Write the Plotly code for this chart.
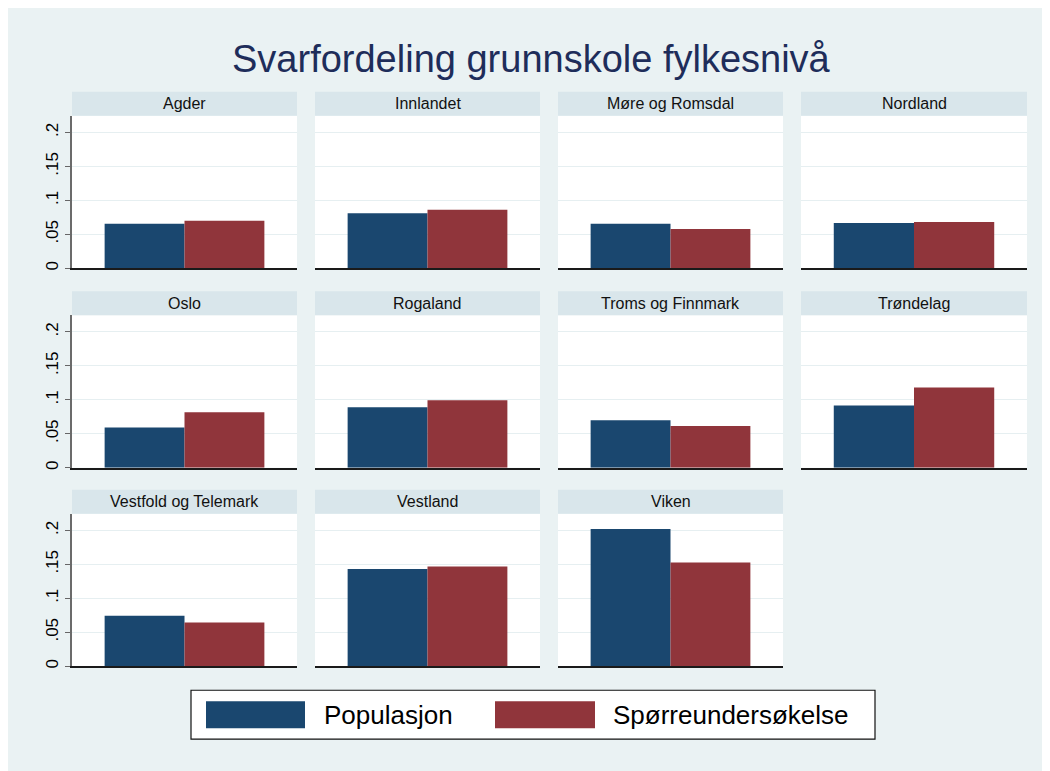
import plotly.graph_objects as go

# ---------------- data ----------------
regions = ["Agder", "Innlandet", "Møre og Romsdal", "Nordland",
           "Oslo", "Rogaland", "Troms og Finnmark", "Trøndelag",
           "Vestfold og Telemark", "Vestland", "Viken"]
populasjon = [0.0656, 0.0811, 0.0656, 0.0665,
              0.0592, 0.0890, 0.0700, 0.0918,
              0.0742, 0.1433, 0.2018]
sporreundersokelse = [0.0700, 0.0861, 0.0577, 0.0680,
                      0.0816, 0.0993, 0.0616, 0.1183,
                      0.0645, 0.1467, 0.1526]
series_names = ["Populasjon", "Spørreundersøkelse"]
y_tick_vals = [0, 0.05, 0.1, 0.15, 0.2]
y_tick_labels = ["0", ".05", ".1", ".15", ".2"]
title_text = "Svarfordeling grunnskole fylkesnivå"

# ---------------- style ----------------
W, H = 1050, 771
OFF = 8  # page body margin offset of the rendered figure
BG = "#EAF2F3"
STRIP = "#D9E6EB"
NAVY = "#1A476F"
MAROON = "#90353B"
FONT = "Liberation Sans, Arial, sans-serif"
colors = [NAVY, MAROON]

col_x = [(72, 297), (315, 540), (558, 783), (801, 1027)]
row_y = [(116, 269), (316, 469), (515, 668)]
STRIP_H = 24


def px(x):
    return (x - OFF) / W


def py(y):
    return 1 - (y - OFF) / H


fig = go.Figure()
layout = dict(
    width=W, height=H,
    margin=dict(l=0, r=0, t=0, b=0),
    paper_bgcolor=BG, plot_bgcolor="white",
    barmode="group", bargap=0.29, bargroupgap=0,
    showlegend=False,
    font=dict(family=FONT, color="black"),
)
shapes = []
annotations = []

for i, reg in enumerate(regions):
    r, c = divmod(i, 4)
    k = i + 1
    xs = "" if k == 1 else str(k)
    x0, x1 = col_x[c]
    y0, y1 = row_y[r]
    for s, vals in enumerate([populasjon, sporreundersokelse]):
        fig.add_trace(go.Bar(
            x=[reg], y=[vals[i]], name=series_names[s],
            marker=dict(color=colors[s], line=dict(width=0)),
            xaxis="x" + xs, yaxis="y" + xs,
            hovertemplate=series_names[s] + ": %{y:.3f}<extra>" + reg + "</extra>",
        ))
    layout["xaxis" + xs] = dict(
        domain=[px(x0), px(x1)], anchor="y" + xs,
        range=[-0.5, 0.5], showticklabels=False, ticks="",
        showgrid=False, zeroline=False,
        showline=True, linecolor="#1a1a1a", linewidth=1.5,
        fixedrange=True,
    )
    first_col = (c == 0)
    layout["yaxis" + xs] = dict(
        domain=[py(y1), py(y0)], anchor="x" + xs,
        range=[0, 0.2245],
        tickvals=y_tick_vals, ticktext=y_tick_labels,
        showticklabels=first_col,
        ticks="outside" if first_col else "",
        ticklen=5, tickcolor="#666666", tickwidth=1.2,
        tickangle=-90,
        tickfont=dict(size=17, color="black", family=FONT),
        showgrid=True, gridcolor="#E6EFF1", gridwidth=1.2,
        zeroline=False,
        showline=first_col, linecolor="#6b6b6b", linewidth=1.5,
        fixedrange=True,
    )
    # facet header strip
    shapes.append(dict(type="rect", xref="paper", yref="paper",
                       x0=px(x0), x1=px(x1), y0=py(y0), y1=py(y0 - STRIP_H),
                       fillcolor=STRIP, line=dict(width=0), layer="above"))
    annotations.append(dict(xref="paper", yref="paper",
                            x=px((x0 + x1) / 2), y=py(y0 - STRIP_H / 2),
                            text=reg, showarrow=False,
                            xanchor="center", yanchor="middle",
                            font=dict(size=16, color="#111111", family=FONT)))

# title
annotations.append(dict(xref="paper", yref="paper", x=px(531), y=py(59),
                        text=title_text, showarrow=False,
                        xanchor="center", yanchor="middle",
                        font=dict(size=38, color="#1E2D5A", family=FONT)))

# manual legend (large swatches like the original)
shapes.append(dict(type="rect", xref="paper", yref="paper",
                   x0=px(191), x1=px(875), y0=py(741), y1=py(692),
                   fillcolor="white", line=dict(color="#111111", width=1.2),
                   layer="above"))
sw_x = [(206, 305), (495, 595)]
txt_x = [322, 611]
for s in range(2):
    shapes.append(dict(type="rect", xref="paper", yref="paper",
                       x0=px(sw_x[s][0]), x1=px(sw_x[s][1]),
                       y0=py(730), y1=py(703),
                       fillcolor=colors[s], line=dict(width=0), layer="above"))
    annotations.append(dict(xref="paper", yref="paper",
                            x=px(txt_x[s]), y=py(717),
                            text=series_names[s], showarrow=False,
                            xanchor="left", yanchor="middle",
                            font=dict(size=26, color="black", family=FONT)))

layout["shapes"] = shapes
layout["annotations"] = annotations
fig.update_layout(**layout)
fig.write_html("out.html",
               post_script="document.body.style.overflow='hidden';")
